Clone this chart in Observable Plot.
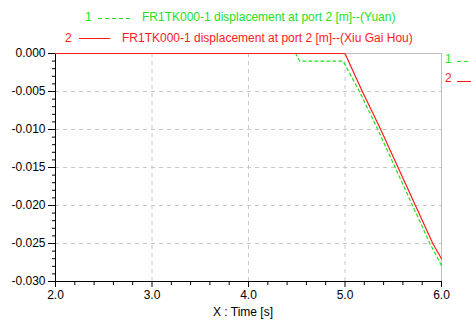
<!DOCTYPE html>
<html>
<head>
<meta charset="utf-8">
<script src="https://cdn.jsdelivr.net/npm/d3@7"></script>
<script src="https://cdn.jsdelivr.net/npm/@observablehq/plot@0.6"></script>
<style>
  body { margin: 0; background: white; }
  #wrap { position: relative; width: 471px; height: 325px; overflow: hidden; font-family: "Liberation Sans", Arial, sans-serif; font-size: 12px; }
  .lab { position: absolute; white-space: nowrap; line-height: 14px; }
  .g { color: #22e022; }
  .r { color: #ff1a1a; }
  svg.sample { position: absolute; }
</style>
</head>
<body>
<div id="wrap"></div>
<script>
// Data
const seriesNames = ["FR1TK000-1 displacement at port 2 [m]--(Yuan)", "FR1TK000-1 displacement at port 2 [m]--(Xiu Gai Hou)"];
const timeYuan = [2.0, 4.49, 4.53, 4.98, 5.15, 5.34, 5.52, 5.70, 5.88, 6.0];
const dispYuan = [0.0, 0.0, -0.001, -0.001, -0.005, -0.010, -0.015, -0.020, -0.025, -0.0279];
const timeXGH = [2.0, 5.0, 5.18, 5.37, 5.55, 5.73, 5.91, 6.0];
const dispXGH = [0.0, 0.0, -0.005, -0.010, -0.015, -0.020, -0.025, -0.0270];
const xMajor = [2, 3, 4, 5, 6];
const yMajor = [-0.030, -0.025, -0.020, -0.015, -0.010, -0.005, 0.000];
const xLabel = "X : Time [s]";

const xMinor = d3.range(2, 6.0001, 0.2).filter(v => Math.abs(v - Math.round(v)) > 1e-6);
const yMinor = d3.range(-30, 1, 1).filter(v => v % 5 !== 0).map(v => v / 1000);

const green = "#22e022";
const red = "#ff1a1a";
const gridStyle = {stroke: "#c8c8c8", strokeOpacity: 1, strokeDasharray: "4,4"};

const chart = Plot.plot({
  width: 471,
  height: 325,
  marginLeft: 55,
  marginRight: 30,
  marginTop: 53,
  marginBottom: 44,
  x: {domain: [2, 6]},
  y: {domain: [-0.03, 0]},
  style: {fontFamily: "Liberation Sans, Arial, sans-serif", fontSize: "12px", background: "white", color: "black"},
  marks: [
    Plot.gridX(xMajor, gridStyle),
    Plot.gridY(yMajor, gridStyle),
    Plot.frame({stroke: "#c0c0c0"}),
    Plot.axisX(xMinor, {tickSize: 4, tickFormat: () => "", label: null}),
    Plot.axisX(xMajor, {tickSize: 6, tickPadding: 3, tickFormat: d => d.toFixed(1), label: null, fontSize: 12}),
    Plot.axisY(yMinor, {tickSize: 3, tickFormat: () => "", label: null}),
    Plot.axisY(yMajor, {tickSize: 7, tickPadding: 3, tickFormat: d => (Math.abs(d) < 1e-9 ? 0 : d).toFixed(3), label: null, fontSize: 12}),
    Plot.ruleX([2], {stroke: "black"}),
    Plot.ruleY([-0.03], {stroke: "black"}),
    Plot.line(timeYuan, {x: timeYuan, y: dispYuan, stroke: green, strokeWidth: 1.2, strokeDasharray: "3,3"}),
    Plot.line(timeXGH, {x: timeXGH, y: dispXGH, stroke: red, strokeWidth: 1.2})
  ]
});
const wrap = document.getElementById("wrap");
chart.style.position = "absolute";
chart.style.left = "0px";
chart.style.top = "0px";
wrap.appendChild(chart);

function addLabel(text, cls, left, top) {
  const d = document.createElement("div");
  d.className = "lab " + cls;
  d.textContent = text;
  d.style.left = left + "px";
  d.style.top = top + "px";
  wrap.appendChild(d);
}
function addSample(x, y, w, color, dash) {
  const ns = "http://www.w3.org/2000/svg";
  const s = document.createElementNS(ns, "svg");
  s.setAttribute("class", "sample");
  s.setAttribute("width", w);
  s.setAttribute("height", 3);
  s.style.left = x + "px";
  s.style.top = (y - 1) + "px";
  const l = document.createElementNS(ns, "line");
  l.setAttribute("x1", 0); l.setAttribute("x2", w);
  l.setAttribute("y1", 1.5); l.setAttribute("y2", 1.5);
  l.setAttribute("stroke", color);
  l.setAttribute("stroke-width", 1);
  if (dash) l.setAttribute("stroke-dasharray", dash);
  s.appendChild(l);
  wrap.appendChild(s);
}
// top legend
addLabel("1", "g", 85, 10);
addSample(98, 18, 32, green, "4,3");
addLabel(seriesNames[0], "g", 142, 10);
addLabel("2", "r", 65, 31);
addSample(79, 38, 31, red, null);
addLabel(seriesNames[1], "r", 122, 31);
// right-side labels
addLabel("1", "g", 445, 52);
addSample(457, 61, 14, green, "4,3");
addLabel("2", "r", 445, 71);
addSample(457, 81, 14, red, null);
// x-axis title
addLabel(xLabel, "", 213, 305);
</script>
</body>
</html>
